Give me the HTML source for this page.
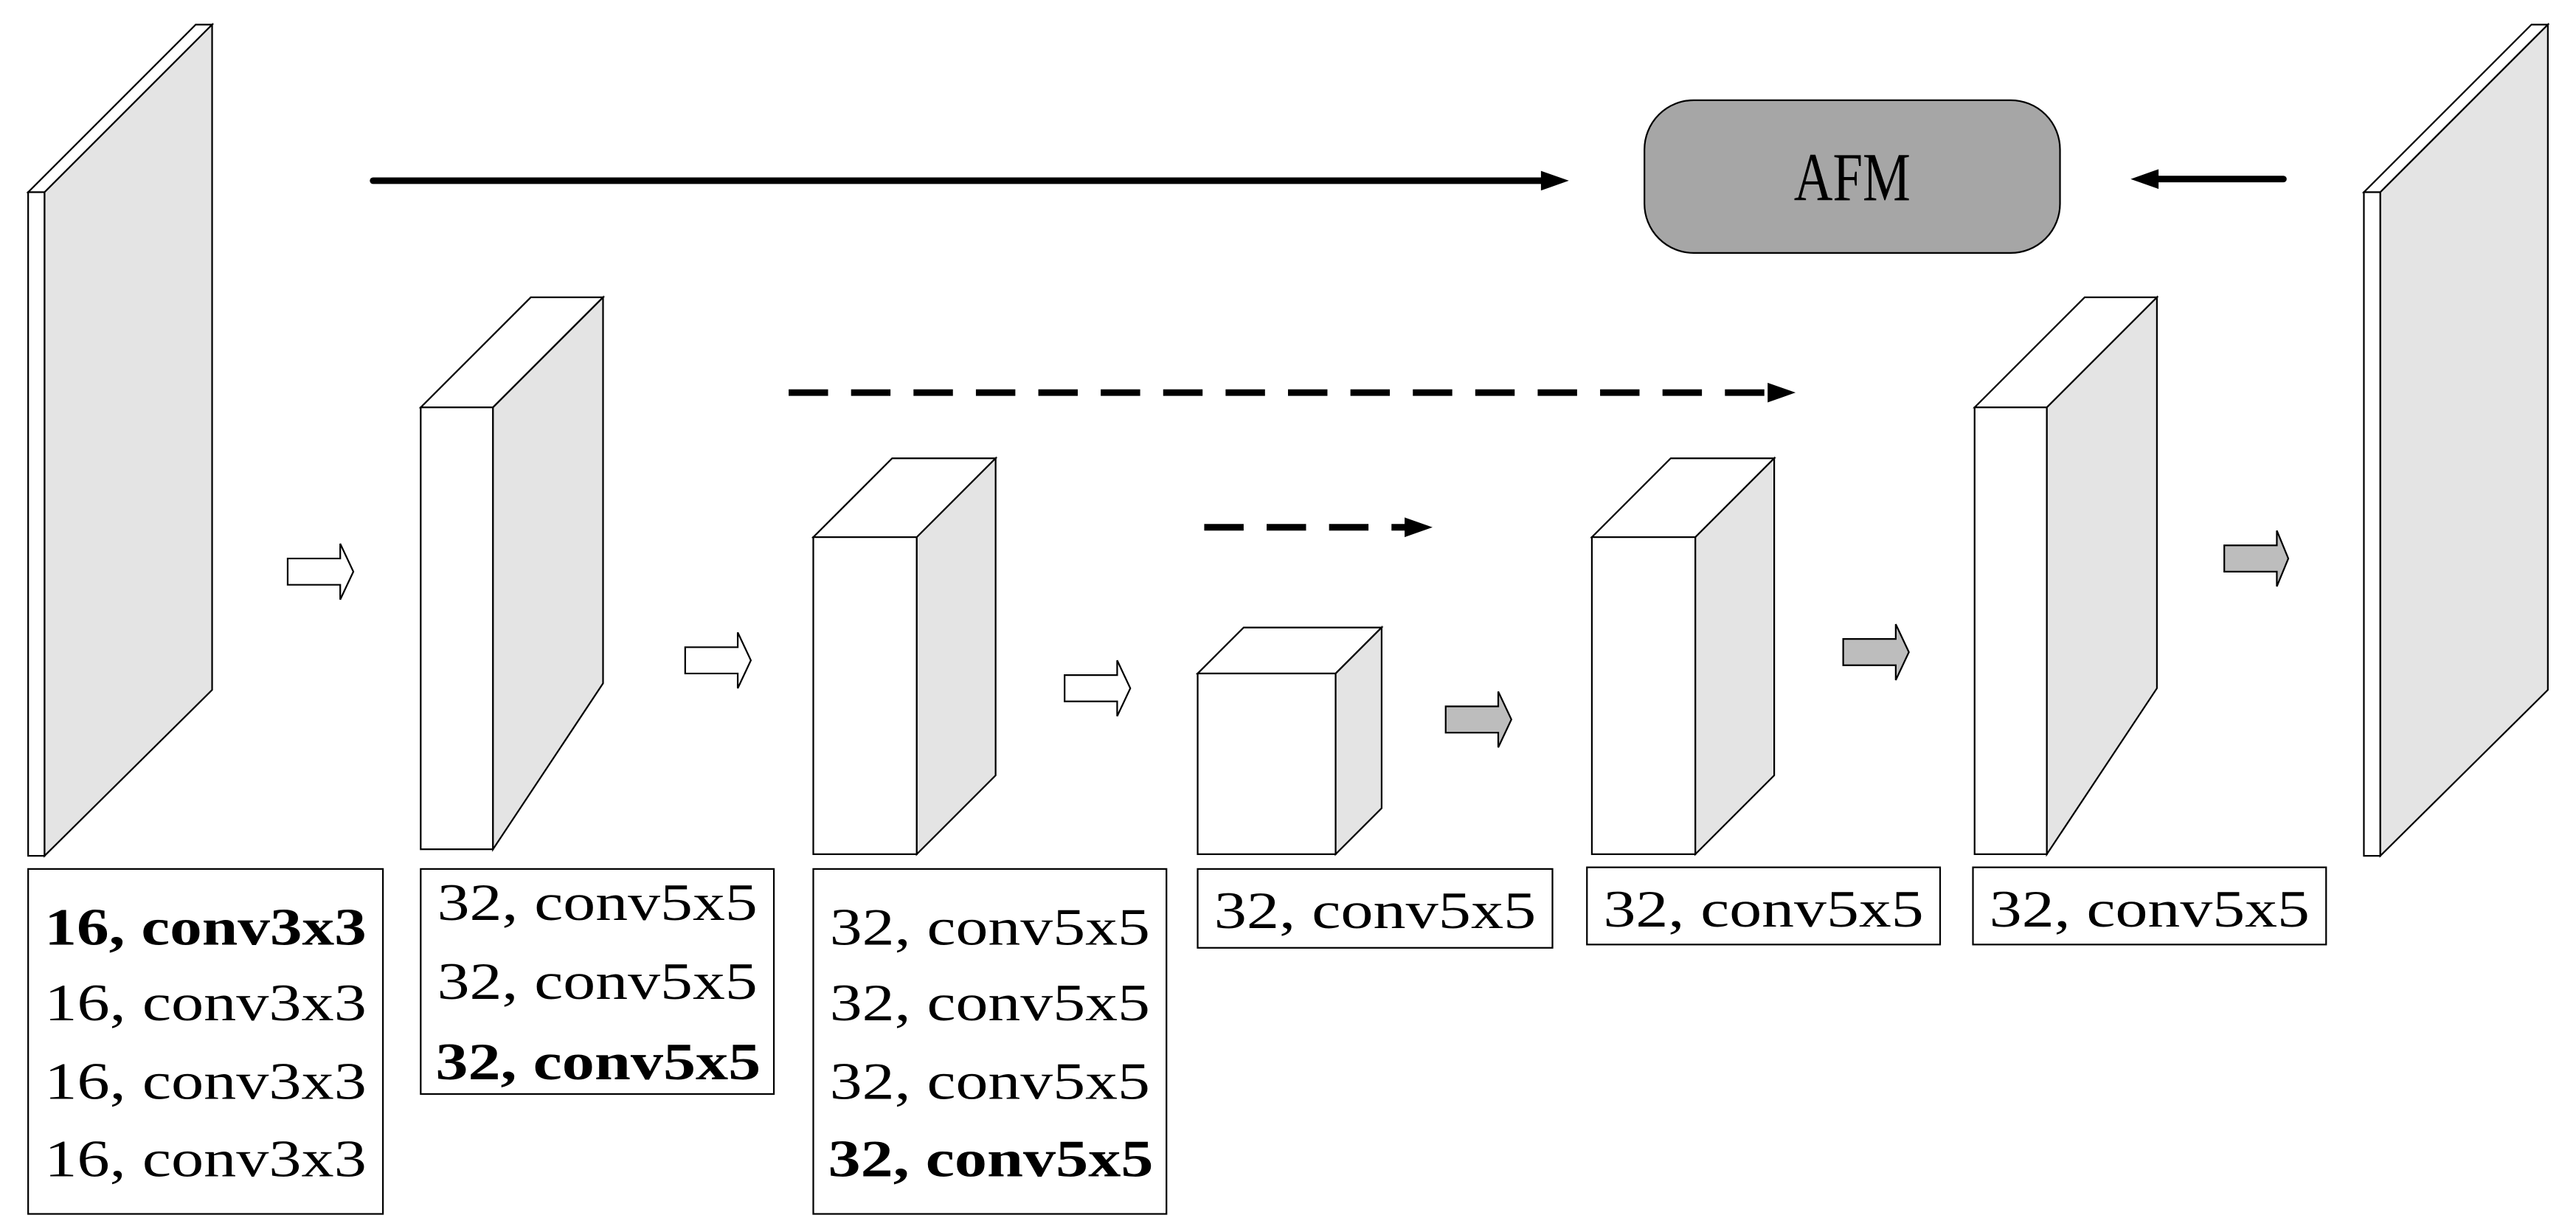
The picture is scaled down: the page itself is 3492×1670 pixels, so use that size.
<!DOCTYPE html>
<html><head><style>html,body{margin:0;padding:0;background:#fff}svg{display:block}</style></head>
<body>
<svg width="3492" height="1670" viewBox="0 0 1568 750" xmlns="http://www.w3.org/2000/svg">
<g stroke="#000" stroke-width="1" stroke-linejoin="miter">
<polygon points="17,117 27,117 129,15 119,15" fill="#fff"/>
<rect x="17" y="117" width="10" height="404" fill="#fff"/>
<polygon points="27,117 129,15 129,420 27,521" fill="#e4e4e4"/>
<polygon points="256,248 300,248 367,181 323,181" fill="#fff"/>
<rect x="256" y="248" width="44" height="269" fill="#fff"/>
<polygon points="300,248 367,181 367,416 300,517" fill="#e4e4e4"/>
<polygon points="495,327 558,327 606,279 543,279" fill="#fff"/>
<rect x="495" y="327" width="63" height="193" fill="#fff"/>
<polygon points="558,327 606,279 606,472 558,520" fill="#e4e4e4"/>
<polygon points="729,410 813,410 841,382 757,382" fill="#fff"/>
<rect x="729" y="410" width="84" height="110" fill="#fff"/>
<polygon points="813,410 841,382 841,492 813,520" fill="#e4e4e4"/>
<polygon points="969,327 1032,327 1080,279 1017,279" fill="#fff"/>
<rect x="969" y="327" width="63" height="193" fill="#fff"/>
<polygon points="1032,327 1080,279 1080,472 1032,520" fill="#e4e4e4"/>
<polygon points="1202,248 1246,248 1313,181 1269,181" fill="#fff"/>
<rect x="1202" y="248" width="44" height="272" fill="#fff"/>
<polygon points="1246,248 1313,181 1313,419 1246,520" fill="#e4e4e4"/>
<polygon points="1439,117 1449,117 1551,15 1541,15" fill="#fff"/>
<rect x="1439" y="117" width="10" height="404" fill="#fff"/>
<polygon points="1449,117 1551,15 1551,420 1449,521" fill="#e4e4e4"/>
<rect x="17" y="529" width="216" height="210" fill="#fff"/>
<rect x="256" y="529" width="215" height="137" fill="#fff"/>
<rect x="495" y="529" width="215" height="210" fill="#fff"/>
<rect x="729" y="529" width="216" height="48" fill="#fff"/>
<rect x="966" y="528" width="215" height="47" fill="#fff"/>
<rect x="1201" y="528" width="215" height="47" fill="#fff"/>
<rect x="1001" y="61" width="253" height="93" rx="30" ry="30" fill="#a6a6a6"/>
</g>
<g stroke="#000" stroke-width="1">
<path d="M175,340 h32 v-9 l8,17 l-8,17 v-9 h-32z" fill="#fff"/>
<path d="M417,394 h32 v-9 l8,17 l-8,17 v-9 h-32z" fill="#fff"/>
<path d="M648,411 h32 v-9 l8,17 l-8,17 v-9 h-32z" fill="#fff"/>
<path d="M880,430 h32 v-9 l8,17 l-8,17 v-9 h-32z" fill="#bdbdbd"/>
<path d="M1122,389 h32 v-9 l8,17 l-8,17 v-9 h-32z" fill="#bdbdbd"/>
<path d="M1354,332 h32 v-9 l7,17 l-7,17 v-9 h-32z" fill="#bdbdbd"/>
</g>
<g stroke="#000" stroke-width="4" stroke-linecap="round">
<line x1="227" y1="110" x2="942" y2="110"/>
<line x1="1390" y1="109" x2="1310" y2="109"/>
</g>
<polygon points="938,104 955,110 938,116" fill="#000"/>
<polygon points="1314,103 1297,109 1314,115" fill="#000"/>
<g stroke="#000" stroke-width="4">
<line x1="480" y1="239" x2="1078" y2="239" stroke-dasharray="24,14"/>
<line x1="733" y1="321" x2="858" y2="321" stroke-dasharray="24,14"/>
</g>
<polygon points="1076,233 1093,239 1076,245" fill="#000"/>
<polygon points="855,315 872,321 855,327" fill="#000"/>
<g font-family="'Liberation Serif', serif" font-size="32" fill="#000" lengthAdjust="spacingAndGlyphs">
<text x="27" y="575" font-weight="bold" textLength="196" lengthAdjust="spacingAndGlyphs">16, conv3x3</text>
<text x="27" y="621" textLength="196" lengthAdjust="spacingAndGlyphs">16, conv3x3</text>
<text x="27" y="669" textLength="196" lengthAdjust="spacingAndGlyphs">16, conv3x3</text>
<text x="27" y="716" textLength="196" lengthAdjust="spacingAndGlyphs">16, conv3x3</text>
<text x="266" y="560" textLength="195" lengthAdjust="spacingAndGlyphs">32, conv5x5</text>
<text x="266" y="608" textLength="195" lengthAdjust="spacingAndGlyphs">32, conv5x5</text>
<text x="265" y="657" font-weight="bold" textLength="198" lengthAdjust="spacingAndGlyphs">32, conv5x5</text>
<text x="505" y="575" textLength="195" lengthAdjust="spacingAndGlyphs">32, conv5x5</text>
<text x="505" y="621" textLength="195" lengthAdjust="spacingAndGlyphs">32, conv5x5</text>
<text x="505" y="669" textLength="195" lengthAdjust="spacingAndGlyphs">32, conv5x5</text>
<text x="504" y="716" font-weight="bold" textLength="198" lengthAdjust="spacingAndGlyphs">32, conv5x5</text>
<text x="739" y="565" textLength="196" lengthAdjust="spacingAndGlyphs">32, conv5x5</text>
<text x="976" y="564" textLength="195" lengthAdjust="spacingAndGlyphs">32, conv5x5</text>
<text x="1211" y="564" textLength="195" lengthAdjust="spacingAndGlyphs">32, conv5x5</text>
<text x="1092" y="122" font-size="42" textLength="71" lengthAdjust="spacingAndGlyphs">AFM</text>
</g>
</svg>
</body></html>
